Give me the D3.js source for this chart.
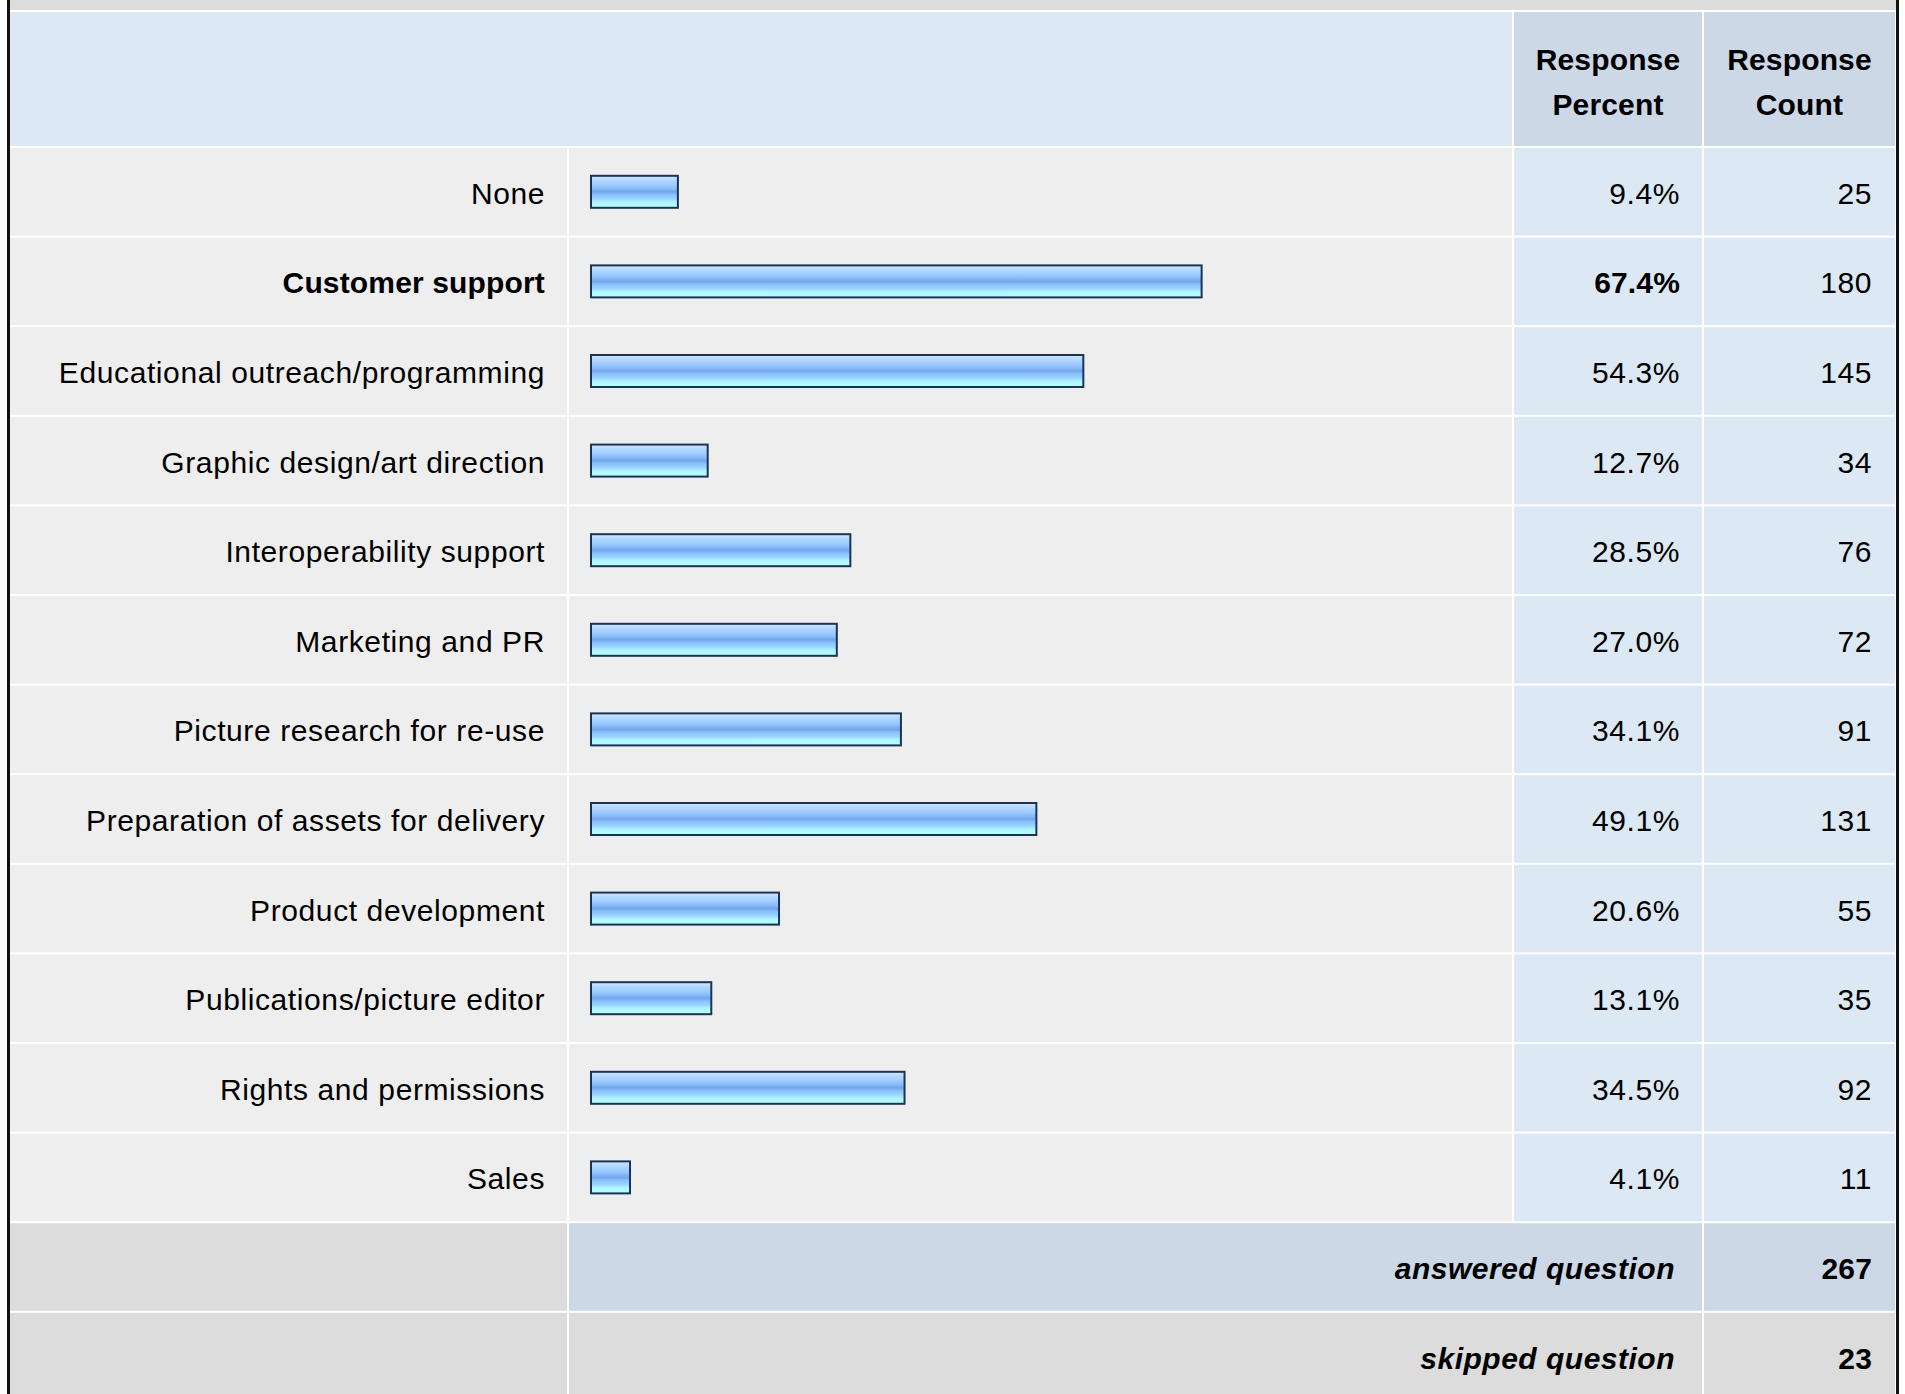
<!DOCTYPE html>
<html>
  <head>
    <meta charset="utf-8">
    <script src="https://d3js.org/d3.v7.min.js"></script>
    <title>Survey responses</title>
    <style type="text/css">
      body { margin: 0; background: #fff; }
      svg { display: block; }
      text { font-family: "Liberation Sans", Arial, sans-serif; fill: #000; }
    </style>
  </head>
  <body>
    <div id="chart"></div>
    <script type="text/javascript">
      var categories = ["None", "Customer support", "Educational outreach/programming",
                        "Graphic design/art direction", "Interoperability support",
                        "Marketing and PR", "Picture research for re-use",
                        "Preparation of assets for delivery", "Product development",
                        "Publications/picture editor", "Rights and permissions", "Sales"];
      var percents = [9.4, 67.4, 54.3, 12.7, 28.5, 27.0, 34.1, 49.1, 20.6, 13.1, 34.5, 4.1];
      var counts = [25, 180, 145, 34, 76, 72, 91, 131, 55, 35, 92, 11];
      var headers = [["Response", "Percent"], ["Response", "Count"]];
      var footerLabels = ["answered question", "skipped question"];
      var footerCounts = [267, 23];

      var width = 1905,
          height = 1394,
          gap = 2,
          fontSize = 30,
          lsNormal = 0.6,
          lsBold = 0.15;

      // column edges
      var colLabel = [10, 567],
          colBar = [569, 1512],
          colPct = [1514, 1702],
          colCnt = [1704, 1895];

      var headerTop = 12, headerBottom = 146;
      var rowStep = 89.6;
      var rowTop = headerBottom + gap;

      var allRows = categories.concat(footerLabels);
      var y = d3.scaleBand()
        .domain(d3.range(allRows.length))
        .range([rowTop, rowTop + rowStep * allRows.length])
        .paddingInner(0)
        .paddingOuter(0);

      var x = d3.scaleLinear().domain([0, 100]).range([0, 903]);
      var barX = 590, barH = 34;

      var maxPct = d3.max(percents);

      var svg = d3.select("#chart")
        .append("svg")
        .attr("width", width)
        .attr("height", height);

      var defs = svg.append("defs");
      var grad = defs.append("linearGradient")
        .attr("id", "barGrad")
        .attr("x1", 0).attr("y1", 0).attr("x2", 0).attr("y2", 1);
      [[0, "#d2e8ff"], [0.14, "#b2d8ff"], [0.3, "#9ccaff"], [0.42, "#86b8f6"],
       [0.5, "#72a6ec"], [0.6, "#8cc2fc"], [0.72, "#9ad4ff"], [0.82, "#b0f4ff"],
       [1, "#b4ffff"]].forEach(function(s) {
        grad.append("stop").attr("offset", s[0]).attr("stop-color", s[1]);
      });

      // outer frame
      svg.append("rect").attr("x", 0).attr("y", 0).attr("width", width).attr("height", height).attr("fill", "#fff");
      svg.append("rect").attr("x", 10).attr("y", 0).attr("width", 1886).attr("height", 10).attr("fill", "#dcdcdc");
      svg.append("rect").attr("x", 7).attr("y", 0).attr("width", 3).attr("height", height).attr("fill", "#111");
      svg.append("rect").attr("x", 1896).attr("y", 0).attr("width", 3).attr("height", height).attr("fill", "#111");

      function cell(x0, x1, y0, y1, fill) {
        svg.append("rect")
          .attr("x", x0).attr("y", y0)
          .attr("width", x1 - x0).attr("height", y1 - y0)
          .attr("fill", fill);
      }

      // header
      cell(colLabel[0], colBar[1], headerTop, headerBottom, "#dde8f5");
      cell(colPct[0], colPct[1], headerTop, headerBottom, "#ccd8e6");
      cell(colCnt[0], colCnt[1], headerTop, headerBottom, "#ccd8e6");

      [colPct, colCnt].forEach(function(c, i) {
        var t = svg.append("text")
          .attr("text-anchor", "middle")
          .attr("font-weight", "bold")
          .attr("font-size", fontSize)
          .attr("letter-spacing", lsBold);
        headers[i].forEach(function(line, j) {
          t.append("tspan")
            .attr("x", (c[0] + c[1]) / 2)
            .attr("y", 69.5 + j * 45)
            .text(line);
        });
      });

      // data rows
      var rows = svg.append("g")
        .selectAll("g")
        .data(categories)
        .enter()
          .append("g");

      rows.each(function(d, i) {
        var g = d3.select(this),
            y0 = y(i),
            y1 = y0 + y.bandwidth() - gap,
            mid = (y0 + y1) / 2,
            isMax = percents[i] === maxPct,
            weight = isMax ? "bold" : "normal",
            ls = isMax ? lsBold : lsNormal;

        [[colLabel, "#eeeeee"], [colBar, "#eeeeee"], [colPct, "#dde8f5"], [colCnt, "#dde8f5"]].forEach(function(c) {
          g.append("rect")
            .attr("x", c[0][0]).attr("y", y0)
            .attr("width", c[0][1] - c[0][0]).attr("height", y1 - y0)
            .attr("fill", c[1]);
        });

        g.append("text")
          .attr("x", colLabel[1] - 22)
          .attr("y", mid + 12)
          .attr("text-anchor", "end")
          .attr("font-size", fontSize)
          .attr("letter-spacing", ls)
          .attr("font-weight", weight)
          .text(d);

        var w = x(percents[i]) + 4;
        g.append("rect")
          .attr("x", barX + 1)
          .attr("y", mid - barH / 2 + 1)
          .attr("width", w - 2)
          .attr("height", barH - 2)
          .attr("fill", "url(#barGrad)")
          .attr("stroke", "#1d3354")
          .attr("stroke-width", 2);

        g.append("text")
          .attr("x", colPct[1] - 22)
          .attr("y", mid + 12)
          .attr("text-anchor", "end")
          .attr("font-size", fontSize)
          .attr("letter-spacing", ls)
          .attr("font-weight", weight)
          .text(d3.format(".1f")(percents[i]) + "%");

        g.append("text")
          .attr("x", colCnt[1] - 23)
          .attr("y", mid + 12)
          .attr("text-anchor", "end")
          .attr("font-size", fontSize)
          .attr("letter-spacing", lsNormal)
          .text(counts[i]);
      });

      // footer rows
      footerLabels.forEach(function(label, k) {
        var i = categories.length + k,
            y0 = y(i),
            y1 = y0 + y.bandwidth() - gap,
            mid = (y0 + y1) / 2,
            fill = k === 0 ? "#ccd8e6" : "#dcdcdc";

        cell(colLabel[0], colLabel[1], y0, y1, "#dcdcdc");
        cell(colBar[0], colPct[1], y0, y1, fill);
        cell(colCnt[0], colCnt[1], y0, y1, fill);

        svg.append("text")
          .attr("x", colPct[1] - 27)
          .attr("y", mid + 12)
          .attr("text-anchor", "end")
          .attr("font-size", fontSize)
          .attr("letter-spacing", 0.5)
          .attr("font-weight", "bold")
          .attr("font-style", "italic")
          .text(label);

        svg.append("text")
          .attr("x", colCnt[1] - 23)
          .attr("y", mid + 12)
          .attr("text-anchor", "end")
          .attr("font-size", fontSize)
          .attr("letter-spacing", lsBold)
          .attr("font-weight", "bold")
          .text(footerCounts[k]);
      });
    </script>
  </body>
</html>
